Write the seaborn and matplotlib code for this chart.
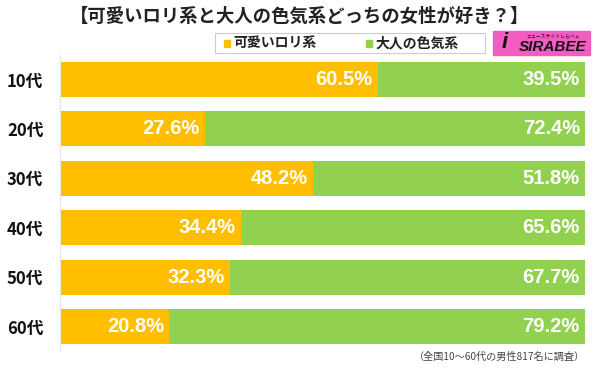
import matplotlib.pyplot as plt
import pandas as pd
import seaborn as sns
from matplotlib.patches import Rectangle

ages = ["10代", "20代", "30代", "40代", "50代", "60代"]
loli = [60.5, 27.6, 48.2, 34.4, 32.3, 20.8]
adult = [39.5, 72.4, 51.8, 65.6, 67.7, 79.2]
series_names = ["可愛いロリ系", "大人の色気系"]
title = "【可愛いロリ系と大人の色気系どっちの女性が好き？】"
note = "（全国10～60代の男性817名に調査）"

ORANGE = "#FFBF00"
GREEN = "#92D050"

sns.set_theme(style="white")
plt.rcParams["font.family"] = ["Noto Sans CJK JP", "DejaVu Sans"]

df = pd.DataFrame({"age": ages, "loli": loli, "adult": adult})
df["total"] = df["loli"] + df["adult"]

fig = plt.figure(figsize=(6, 3.69), dpi=100)
ax = fig.add_axes([0.1, 0.048, 0.875, 0.8035])

# stacked: full-length green bar, orange share drawn over it
sns.barplot(data=df, y="age", x="total", color=GREEN, orient="h",
            width=0.71, saturation=1, linewidth=0, ax=ax)
sns.barplot(data=df, y="age", x="loli", color=ORANGE, orient="h",
            width=0.71, saturation=1, linewidth=0, ax=ax)

num_font = ["Liberation Sans", "DejaVu Sans"]
for i, row in df.iterrows():
    ax.text(row["loli"] - 1.0, i, f"{row['loli']:.1f}%", color="white",
            fontsize=14.5, fontweight="bold", ha="right", va="center",
            family=num_font)
    ax.text(row["total"] - 1.0, i, f"{row['adult']:.1f}%", color="white",
            fontsize=14.5, fontweight="bold", ha="right", va="center",
            family=num_font)

ax.set_xlim(0, 100)
ax.set_ylim(5.5, -0.5)
ax.set_xlabel("")
ax.set_ylabel("")
ax.set_xticks([])
ax.tick_params(axis="y", length=0, pad=12, labelsize=12, labelcolor="#111111")
for lab in ax.get_yticklabels():
    lab.set_fontweight("bold")
for side in ["top", "right", "bottom"]:
    ax.spines[side].set_visible(False)
ax.spines["left"].set_color("#E6E6E6")
ax.spines["left"].set_linewidth(0.8)

fig.text(0.5, 0.955, title, ha="center", va="center", fontsize=13.2,
         fontweight="bold", color="#222222")

# legend box
fig.patches.append(Rectangle((215 / 600, 1 - 53 / 369), 270 / 600, 20 / 369,
                             transform=fig.transFigure, facecolor="white",
                             edgecolor="#CCCCCC", linewidth=0.8))
fig.patches.append(Rectangle((224 / 600, 1 - 46.5 / 369), 6 / 600, 7 / 369,
                             transform=fig.transFigure, color=ORANGE))
fig.text(233 / 600, 1 - 43 / 369, series_names[0], ha="left", va="center",
         fontsize=10, fontweight="bold", color="#222222")
fig.patches.append(Rectangle((366 / 600, 1 - 46.5 / 369), 6 / 600, 7 / 369,
                             transform=fig.transFigure, color=GREEN))
fig.text(375 / 600, 1 - 43 / 369, series_names[1], ha="left", va="center",
         fontsize=10, fontweight="bold", color="#222222")

# logo
fig.patches.append(Rectangle((493 / 600, 1 - 55 / 369), 97 / 600, 24 / 369,
                             transform=fig.transFigure, color="#F35CC0"))
fig.text(505 / 600, 1 - 43 / 369, "i", ha="center", va="center",
         fontsize=16, fontweight="bold", style="italic", color="#111111",
         family=num_font)
fig.text(553 / 600, 1 - 47 / 369, "SIRABEE", ha="center", va="center",
         fontsize=11, fontweight="bold", style="italic", color="#111111",
         family=num_font)
fig.text(553 / 600, 1 - 36 / 369, "ニュースサイトしらべぇ", ha="center",
         va="center", fontsize=3.5, color="#111111")

fig.text(0.975, 0.032, note, ha="right", va="center", fontsize=7.3,
         color="#444444")

fig.savefig("out.png", dpi=100)
